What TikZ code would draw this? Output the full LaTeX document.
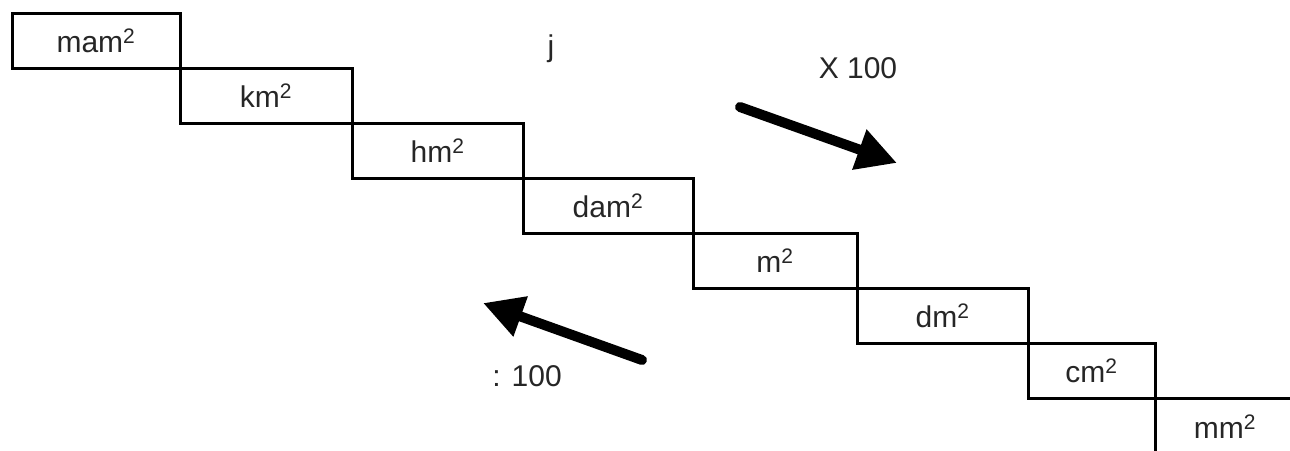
\documentclass[tikz,border=0pt]{standalone}
\usepackage{fontspec}
\setmainfont{Liberation Sans}
\usepackage{tikz}
\usetikzlibrary{arrows.meta,positioning}
\tikzset{
  ustair/.style={
    draw=black,
    line width=3pt,
    inner sep=0pt,
    outer sep=0pt,
    minimum height=55.1pt,
    text=black!85,
    font=\fontsize{30}{34}\selectfont
  },
  unote/.style={text=black!85,inner sep=0pt,font=\fontsize{30}{34}\selectfont},
  ujump/.style={-{Triangle[length=40pt,width=40pt]},draw=black,line width=10pt,line cap=round}
}
\begin{document}
\begin{tikzpicture}[x=1pt,y=-1pt]
  \useasboundingbox (0,0) rectangle (1290,450);
  \clip (0,0) rectangle (1290,450);
  \node[ustair,minimum width=168pt,anchor=north west] (mam) at (12,13) {mam\textsuperscript{2}};
  \node[ustair,minimum width=172pt,below right=0pt and 0pt of mam] (km) {km\textsuperscript{2}};
  \node[ustair,minimum width=171pt,below right=0pt and 0pt of km] (hm) {hm\textsuperscript{2}};
  \node[ustair,minimum width=170pt,below right=0pt and 0pt of hm] (dam) {dam\textsuperscript{2}};
  \node[ustair,minimum width=164pt,below right=0pt and 0pt of dam] (m) {m\textsuperscript{2}};
  \node[ustair,minimum width=171pt,below right=0pt and 0pt of m] (dm) {dm\textsuperscript{2}};
  \node[ustair,minimum width=127pt,below right=0pt and 0pt of dm] (cm) {cm\textsuperscript{2}};
  \node[ustair,minimum width=140pt,below right=0pt and 0pt of cm] (mm) {mm\textsuperscript{2}};
  \node[unote,anchor=base] (jlet) at (551,56) {j};
  \node[unote] (times) at (858,68) {X 100};
  \node[unote] (divide) at (527,376) {: 100};
  \coordinate (downtail) at (740,107);
  \coordinate (downtip) at (897,163);
  \coordinate (uptail) at (642,360);
  \coordinate (uptip) at (483,303);
  \draw[ujump] (downtail) -- (downtip);
  \draw[ujump] (uptail) -- (uptip);
\end{tikzpicture}
\end{document}
